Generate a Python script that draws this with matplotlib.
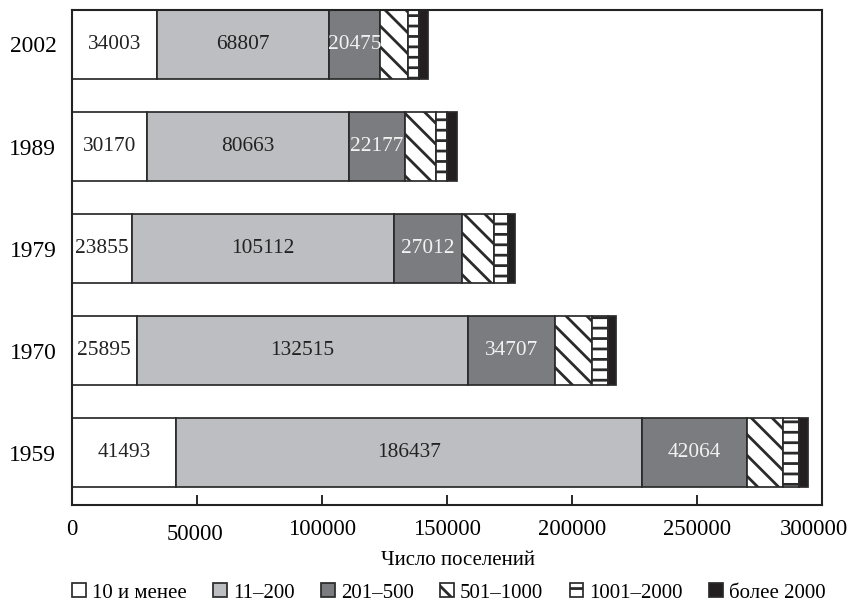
import matplotlib
matplotlib.use("Agg")
import matplotlib.pyplot as plt
from matplotlib.transforms import ScaledTranslation

plt.rcParams['font.family'] = ['Liberation Serif', 'DejaVu Serif']
plt.rcParams['hatch.linewidth'] = 1.6

years = ['1959', '1970', '1979', '1989', '2002']
groups = ['10 и менее', '11–200', '201–500', '501–1000', '1001–2000', 'более 2000']
s_10 = [41493, 25895, 23855, 30170, 34003]
s_200 = [186437, 132515, 105112, 80663, 68807]
s_500 = [42064, 34707, 27012, 22177, 20475]
s_1000 = [14550, 15030, 12700, 12400, 11200]
s_2000 = [6100, 6300, 5700, 4500, 4400]
s_more = [3900, 3300, 3000, 4100, 3700]
series = [s_10, s_200, s_500, s_1000, s_2000, s_more]

colors = ['white', '#bdbec1', '#7b7c7f', 'white', 'white', '#231f20']
hatches = [None, None, None, '\\\\', '--', None]
label_colors = ['#222222', '#222222', '#f2f2f2', None, None, None]

DPI = 125
fig = plt.figure(figsize=(851 / DPI, 603 / DPI), dpi=DPI)
ax = fig.add_axes([72 / 851, 1 - 505 / 603, 750 / 851, 495 / 603])

ypos = list(range(len(years)))
left = [0] * len(years)
containers = []
for vals, c, h, g in zip(series, colors, hatches, groups):
    bc = ax.barh(ypos, vals, left=left, height=0.675, color=c, hatch=h,
                 edgecolor='#2a2a2a', linewidth=1.0, label=g)
    containers.append(bc)
    left = [a + b for a, b in zip(left, vals)]

for bc, lc in zip(containers, label_colors):
    if lc is not None:
        ax.bar_label(bc, fmt='%d', label_type='center', color=lc, fontsize=12.3)

ax.set_xlim(0, 300000)
ax.set_ylim(-0.51, 4.3375)
ax.set_xticks([0, 50000, 100000, 150000, 200000, 250000, 300000])
ax.set_xticklabels(['0', '50000', '100000', '150000', '200000', '250000', '300000'])
ax.set_yticks(ypos)
ax.set_yticklabels(years)
ax.tick_params(axis='x', direction='in', length=6, width=1.1, labelsize=13, pad=8, color='#222222')
ax.tick_params(axis='y', length=0, labelsize=13.5, pad=9)
for sp in ax.spines.values():
    sp.set_linewidth(1.2)
    sp.set_color('#222222')

# small offsets seen in the reference tick labels
xt = ax.get_xticklabels()
xt[1].set_transform(xt[1].get_transform() + ScaledTranslation(-2 / DPI, -5 / DPI, fig.dpi_scale_trans))
xt[-1].set_transform(xt[-1].get_transform() + ScaledTranslation(-8 / DPI, 0, fig.dpi_scale_trans))

ax.set_xlabel('Число поселений', fontsize=12, labelpad=2)
ax.xaxis.set_label_coords((458 - 72) / 750, -0.092)

leg = fig.legend(loc='center', bbox_to_anchor=(449 / 851, 1 - 593 / 603), ncol=6,
                 frameon=False, fontsize=12, handlelength=0.65, handleheight=0.65,
                 handletextpad=0.3, columnspacing=1.27, borderaxespad=0)

fig.savefig('out.png', dpi=DPI)
